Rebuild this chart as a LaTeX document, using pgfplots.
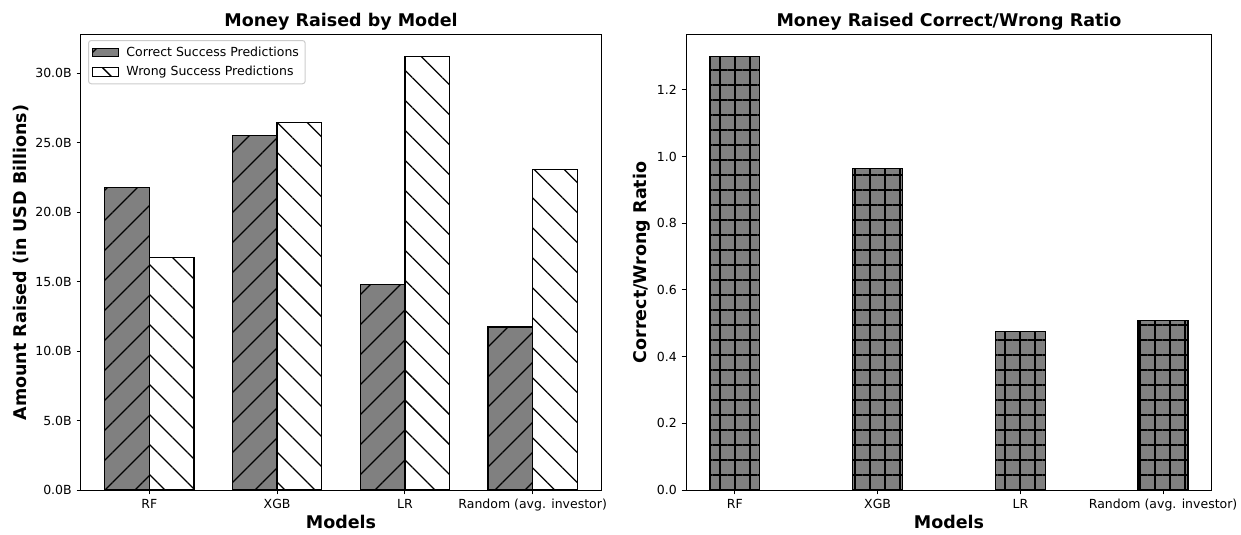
\documentclass[border=0pt]{standalone}
\usepackage{fontspec}
\setmainfont{DejaVu Sans}
\usepackage{pgfplots}
\pgfplotsset{compat=1.18}
\usetikzlibrary{patterns.meta}
\definecolor{mplgray}{RGB}{128,128,128}
\definecolor{legedge}{RGB}{204,204,204}
\pgfplotsset{
  mystyle/.style={
    scale only axis, width=374.4pt, height=327.6pt,
    axis line style={line width=0.72pt},
    tick align=outside, tick pos=left,
    major tick length=3.15pt,
    every tick/.style={black, line width=0.72pt},
    tick label style={font=\fontsize{9}{10}\selectfont},
    /pgf/number format/assume math mode=true,
    title style={font=\fontsize{12.6}{14}\selectfont\bfseries, yshift=-5.8pt},
    label style={font=\fontsize{12.6}{14}\selectfont\bfseries},
    xlabel style={yshift=4.3pt},
    ylabel style={yshift=-2pt},
    xtick={0,1,2,3},
    xticklabels={RF,XGB,LR,Random (avg. investor)},
    ymin=0,
    ybar, bar width=0.35,
  },
  mylegend/.style={legend image code/.code={\draw[##1, sharp corners, line width=0.72pt] (0pt,-3.2pt) rectangle (18.5pt,3.2pt); \path (22pt,0pt);}},
}
\begin{document}
\begin{tikzpicture}
\useasboundingbox (-58.32pt,-32.4pt) rectangle (835.2pt,352.8pt);
\begin{axis}[mystyle, at={(0pt,0pt)}, anchor=south west,
  xmin=-0.535, xmax=3.535, ymax=32.76,
  ytick={0,5,10,15,20,25,30},
  yticklabel={\pgfmathprintnumber[fixed,fixed zerofill,precision=1]{\tick}B},
  title={Money Raised by Model},
  xlabel={Models},
  ylabel={Amount Raised (in USD Billions)},
  legend cell align=left,
  legend style={at={(0.0135,0.989)}, anchor=north west, draw=legedge, rounded corners=2pt,
    font=\fontsize{9}{10}\selectfont, line width=0.72pt, row sep=1.5pt, inner sep=2.5pt},
]
\addplot[mylegend, bar shift=-0.175, draw=black, line width=0.9pt, fill=mplgray,
  postaction={pattern={Lines[angle=45,distance=15.27pt,line width=0.9pt]}}]
  coordinates {(0,21.8) (1,25.54) (2,14.82) (3,11.73)};
\addplot[mylegend, bar shift=0.175, draw=black, line width=0.9pt, fill=white,
  postaction={pattern={Lines[angle=-45,distance=15.27pt,line width=0.9pt]}}]
  coordinates {(0,16.76) (1,26.47) (2,31.22) (3,23.09)};
\legend{Correct Success Predictions, Wrong Success Predictions}
\end{axis}
\begin{axis}[mystyle, at={(435.6pt,0pt)}, anchor=south west, width=378.7pt,
  xmin=-0.3425, xmax=3.3425, ymax=1.365,
  ytick={0,0.2,0.4,0.6,0.8,1.0,1.2},
  yticklabel={\pgfmathprintnumber[fixed,fixed zerofill,precision=1]{\tick}},
  title={Money Raised Correct/Wrong Ratio},
  xlabel={Models},
  ylabel={Correct/Wrong Ratio},
]
\addplot[bar shift=0, draw=black, line width=0.9pt, fill=mplgray,
  postaction={pattern={Hatch[angle=0,distance=10.8pt,line width=0.9pt]}}]
  coordinates {(0,1.3) (1,0.965) (2,0.475) (3,0.508)};
\end{axis}
\end{tikzpicture}
\end{document}
